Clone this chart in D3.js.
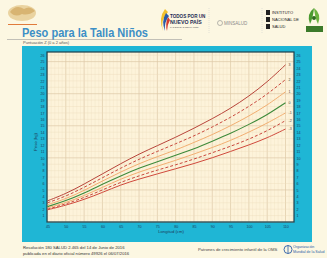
<!DOCTYPE html>
<html lang="es">
<head>
    <meta charset="UTF-8">
    <title>Peso para la Talla Niños</title>
    <style>
        body {
            margin: 0;
            background-color: #fcf7e2;
            font-family: "Liberation Sans", Arial, sans-serif;
        }
        svg {
            display: block;
        }
    </style>
</head>
<body>
    <div id="chart"></div>

    <script src="https://d3js.org/d3.v7.min.js"></script>
    <script>
        // Longitud (cm)
        const lengths = [45, 50, 55, 60, 65, 70, 75, 80, 85, 90, 95, 100, 105, 110];

        // Peso (kg) por puntuación Z
        const sdPos3 = [3.3, 4.4, 5.9, 7.5, 9.1, 10.6, 11.9, 13.2, 14.6, 16.1, 17.7, 19.6, 21.8, 24.5];
        const sdPos2 = [3.0, 4.0, 5.4, 6.9, 8.4, 9.8, 11.0, 12.2, 13.4, 14.8, 16.3, 18.0, 19.9, 22.2];
        const sdPos1 = [2.7, 3.6, 4.9, 6.4, 7.8, 9.1, 10.2, 11.2, 12.4, 13.6, 15.0, 16.5, 18.2, 20.3];
        const sd0    = [2.4, 3.3, 4.5, 5.9, 7.2, 8.4, 9.4, 10.4, 11.4, 12.6, 13.8, 15.2, 16.7, 18.6];
        const sdNeg1 = [2.2, 3.0, 4.1, 5.4, 6.7, 7.8, 8.7, 9.6, 10.6, 11.6, 12.7, 14.0, 15.4, 17.0];
        const sdNeg2 = [2.0, 2.8, 3.8, 5.0, 6.2, 7.2, 8.1, 8.9, 9.8, 10.8, 11.8, 12.9, 14.2, 15.8];
        const sdNeg3 = [1.9, 2.6, 3.5, 4.6, 5.8, 6.7, 7.5, 8.3, 9.1, 10.0, 11.0, 12.0, 13.1, 14.5];

        const curveNames = ["3", "2", "1", "0", "-1", "-2", "-3"];
        const curveValues = [sdPos3, sdPos2, sdPos1, sd0, sdNeg1, sdNeg2, sdNeg3];

        const xTicks = d3.range(45, 111, 5);
        const yTicks = d3.range(1, 27, 1);

        const width = 327;
        const height = 258;

        const svg = d3.select("#chart")
            .append("svg")
            .attr("width", width)
            .attr("height", height);

        // fondo
        svg.append("rect")
            .attr("width", width)
            .attr("height", height)
            .attr("fill", "#fcf7e2");

        // ---- encabezado ----
        // logo izquierdo
        const logo = svg.append("g");
        logo.append("ellipse")
            .attr("cx", 22).attr("cy", 13).attr("rx", 14).attr("ry", 8)
            .attr("fill", "#ead3a0");
        logo.append("path")
            .attr("d", "M10,12 Q16,4 24,9 Q30,5 35,11 Q28,16 22,14 Q15,18 10,12Z")
            .attr("fill", "#d8b472");
        logo.append("line")
            .attr("x1", 8).attr("x2", 37).attr("y1", 24.5).attr("y2", 24.5)
            .attr("stroke", "#e07b3c").attr("stroke-width", 1);

        // título
        svg.append("text")
            .attr("x", 22).attr("y", 37)
            .attr("font-size", 12.5)
            .attr("font-weight", "bold")
            .attr("fill", "#3c8fc6")
            .attr("textLength", 126)
            .attr("lengthAdjust", "spacingAndGlyphs")
            .text("Peso para la Talla Niños");

        svg.append("line")
            .attr("x1", 7).attr("x2", 182).attr("y1", 39.5).attr("y2", 39.5)
            .attr("stroke", "#9a9a9a").attr("stroke-width", 0.6);

        svg.append("text")
            .attr("x", 23).attr("y", 44)
            .attr("font-size", 4)
            .attr("fill", "#555")
            .text("Puntuación Z (0 a 2 años)");

        // logo "Todos por un nuevo país"
        const tpnp = svg.append("g");
        tpnp.append("path")
            .attr("d", "M165,9 Q158,18 163,31 Q160,20 168,12Z")
            .attr("fill", "#f2c12e");
        tpnp.append("path")
            .attr("d", "M166,13 Q161,21 165,31 Q164,22 169,16Z")
            .attr("fill", "#2a5aa8");
        tpnp.append("path")
            .attr("d", "M168,17 Q165,24 167,31 Q167,25 170,20Z")
            .attr("fill", "#d63a2f");
        tpnp.append("text")
            .attr("x", 170).attr("y", 18)
            .attr("font-size", 4.6).attr("font-weight", "bold").attr("fill", "#1d2d55")
            .text("TODOS POR UN");
        tpnp.append("text")
            .attr("x", 170).attr("y", 24)
            .attr("font-size", 5.2).attr("font-weight", "bold").attr("fill", "#1d2d55")
            .text("NUEVO PAÍS");
        tpnp.append("text")
            .attr("x", 170).attr("y", 28)
            .attr("font-size", 2.2).attr("fill", "#555")
            .text("PAZ EQUIDAD EDUCACIÓN");

        // separadores
        [209, 262].forEach(x => {
            svg.append("line")
                .attr("x1", x).attr("x2", x).attr("y1", 8).attr("y2", 34)
                .attr("stroke", "#c8c8c8").attr("stroke-width", 0.5)
                .attr("stroke-dasharray", "1,1");
        });

        // MinSalud
        svg.append("circle")
            .attr("cx", 220).attr("cy", 23).attr("r", 2.5)
            .attr("fill", "none").attr("stroke", "#8a8a8a").attr("stroke-width", 0.6);
        svg.append("text")
            .attr("x", 224).attr("y", 25)
            .attr("font-size", 4.5).attr("fill", "#8a8a8a")
            .text("MINSALUD");

        // Instituto Nacional de Salud
        const ins = svg.append("g");
        [[266, 10], [266, 17], [266, 24]].forEach(d => {
            ins.append("rect")
                .attr("x", d[0]).attr("y", d[1]).attr("width", 4).attr("height", 5)
                .attr("fill", "#222");
        });
        ["INSTITUTO", "NACIONAL DE", "SALUD"].forEach((t, i) => {
            ins.append("text")
                .attr("x", 272).attr("y", 14 + i * 7)
                .attr("font-size", 4).attr("fill", "#222")
                .text(t);
        });

        // logo verde
        const green = svg.append("g");
        green.append("path")
            .attr("d", "M314,8 Q306,14 310,24 Q313,18 314,8Z")
            .attr("fill", "#4a9a2f");
        green.append("path")
            .attr("d", "M314,8 Q322,14 318,24 Q315,18 314,8Z")
            .attr("fill", "#6cb33e");
        green.append("circle")
            .attr("cx", 314).attr("cy", 18).attr("r", 2)
            .attr("fill", "#2e6b1e");
        green.append("rect")
            .attr("x", 306).attr("y", 26).attr("width", 17).attr("height", 6)
            .attr("fill", "#3c7a2a");

        // ---- panel cian ----
        svg.append("rect")
            .attr("x", 22).attr("y", 46)
            .attr("width", 290).attr("height", 196)
            .attr("fill", "#1fb6d5");

        // área del gráfico
        const plot = { left: 47, right: 294, top: 52, bottom: 222 };

        const x = d3.scaleLinear()
            .domain([45, 110])
            .range([47.5, 285.5]);

        const y = d3.scaleLinear()
            .domain([0, 26.5])
            .range([plot.bottom, plot.top]);

        svg.append("rect")
            .attr("x", plot.left).attr("y", plot.top)
            .attr("width", plot.right - plot.left)
            .attr("height", plot.bottom - plot.top)
            .attr("fill", "#fdf3da");

        const grid = svg.append("g");

        // líneas verticales de la cuadrícula
        d3.range(45, 113, 1).forEach(v => {
            const px = x(v);
            if (px > plot.right) return;
            grid.append("line")
                .attr("x1", px).attr("x2", px)
                .attr("y1", plot.top).attr("y2", plot.bottom)
                .attr("stroke", v % 5 === 0 ? "#dcc9a6" : "#f0e2c4")
                .attr("stroke-width", v % 5 === 0 ? 0.7 : 0.4);
        });

        // líneas horizontales de la cuadrícula
        d3.range(0, 27, 1).forEach(v => {
            grid.append("line")
                .attr("x1", plot.left).attr("x2", plot.right)
                .attr("y1", y(v)).attr("y2", y(v))
                .attr("stroke", v % 5 === 0 ? "#dcc9a6" : "#eddcbc")
                .attr("stroke-width", v % 5 === 0 ? 0.7 : 0.4);
        });

        // borde del gráfico
        svg.append("rect")
            .attr("x", plot.left).attr("y", plot.top)
            .attr("width", plot.right - plot.left)
            .attr("height", plot.bottom - plot.top)
            .attr("fill", "none")
            .attr("stroke", "#1c3f4c")
            .attr("stroke-width", 1.2);

        // ejes
        const xAxis = d3.axisBottom(x)
            .tickValues(xTicks)
            .tickSize(0)
            .tickPadding(3);

        const gx = svg.append("g")
            .attr("transform", `translate(0,${plot.bottom + 0.5})`)
            .call(xAxis);
        gx.select(".domain").remove();
        gx.selectAll("text")
            .attr("font-size", 3.6)
            .attr("fill", "#1d3b5a");

        const yAxisLeft = d3.axisLeft(y)
            .tickValues(yTicks)
            .tickSize(0)
            .tickPadding(2);

        const gyl = svg.append("g")
            .attr("transform", `translate(${plot.left - 0.5},0)`)
            .call(yAxisLeft);
        gyl.select(".domain").remove();
        gyl.selectAll("text")
            .attr("font-size", 3.6)
            .attr("fill", "#1d3b5a");

        const yAxisRight = d3.axisRight(y)
            .tickValues(yTicks)
            .tickSize(0)
            .tickPadding(2);

        const gyr = svg.append("g")
            .attr("transform", `translate(${plot.right + 0.5},0)`)
            .call(yAxisRight);
        gyr.select(".domain").remove();
        gyr.selectAll("text")
            .attr("font-size", 3.6)
            .attr("fill", "#1d3b5a");

        // títulos de ejes
        svg.append("text")
            .attr("x", 171).attr("y", 233)
            .attr("text-anchor", "middle")
            .attr("font-size", 4.2)
            .attr("fill", "#1d3b5a")
            .text("Longitud (cm)");

        svg.append("text")
            .attr("transform", "translate(37,142) rotate(-90)")
            .attr("text-anchor", "middle")
            .attr("font-size", 4.2)
            .attr("fill", "#1d3b5a")
            .text("Peso (kg)");

        // ---- curvas ----
        const styles = {
            "3":  { color: "#b8453b", dash: null, w: 1.0 },
            "2":  { color: "#c9483d", dash: "3,2", w: 1.0 },
            "1":  { color: "#f0a767", dash: null, w: 0.9 },
            "0":  { color: "#3d8a3a", dash: null, w: 1.1 },
            "-1": { color: "#f0a767", dash: null, w: 0.9 },
            "-2": { color: "#c9483d", dash: "3,2", w: 1.0 },
            "-3": { color: "#d0493c", dash: null, w: 1.0 }
        };

        const line = d3.line()
            .x(d => x(d[0]))
            .y(d => y(d[1]))
            .curve(d3.curveBasis);

        curveNames.forEach((name, i) => {
            const pts = lengths.map((l, j) => [l, curveValues[i][j]]);
            const s = styles[name];
            svg.append("path")
                .datum(pts)
                .attr("d", line)
                .attr("fill", "none")
                .attr("stroke", s.color)
                .attr("stroke-width", s.w)
                .attr("stroke-dasharray", s.dash);

            svg.append("text")
                .attr("x", x(110) + 3)
                .attr("y", y(curveValues[i][lengths.length - 1]) + 1.3)
                .attr("font-size", 3.6)
                .attr("fill", "#444")
                .text(name);
        });

        // ---- pie ----
        svg.append("text")
            .attr("x", 23).attr("y", 249)
            .attr("font-size", 4.2)
            .attr("fill", "#333")
            .text("Resolución 180 SALUD 2.465 del 14 de Junio de 2016");
        svg.append("text")
            .attr("x", 23).attr("y", 254.5)
            .attr("font-size", 4.2)
            .attr("fill", "#333")
            .text("publicada en el diario oficial número 49926 el 06/07/2016");

        svg.append("text")
            .attr("x", 198).attr("y", 251)
            .attr("font-size", 4.2)
            .attr("fill", "#444")
            .text("Patrones de crecimiento infantil de la OMS");

        // logo OMS
        svg.append("circle")
            .attr("cx", 288).attr("cy", 249.5).attr("r", 4)
            .attr("fill", "none").attr("stroke", "#2b5ea8").attr("stroke-width", 0.9);
        svg.append("line")
            .attr("x1", 288).attr("x2", 288).attr("y1", 245.5).attr("y2", 253.5)
            .attr("stroke", "#2b5ea8").attr("stroke-width", 0.8);
        svg.append("text")
            .attr("x", 293).attr("y", 248)
            .attr("font-size", 3.6).attr("fill", "#2b5ea8")
            .text("Organización");
        svg.append("text")
            .attr("x", 293).attr("y", 252.5)
            .attr("font-size", 3.6).attr("fill", "#2b5ea8")
            .text("Mundial de la Salud");
    </script>
</body>
</html>
